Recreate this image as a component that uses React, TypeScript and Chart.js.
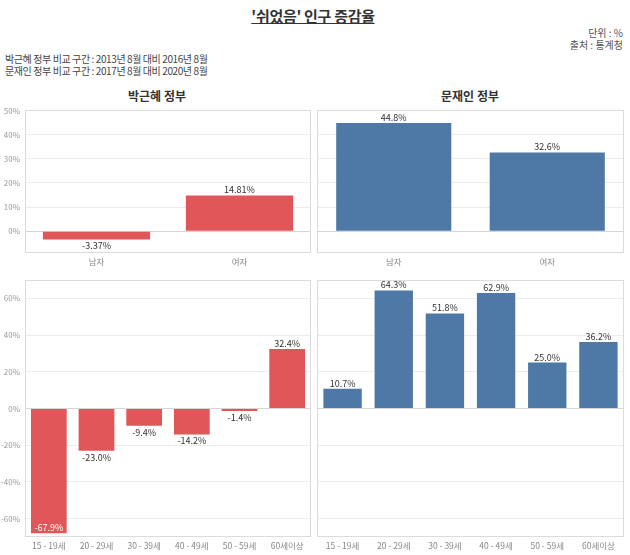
import React, { useEffect, useRef } from "react";
import { Chart, registerables } from "chart.js";

Chart.register(...registerables);

const genderCategories = ["남자", "여자"];
const ageCategories = ["15 - 19세", "20 - 29세", "30 - 39세", "40 - 49세", "50 - 59세", "60세이상"];
const parkGender = [-3.37, 14.81];
const moonGender = [44.8, 32.6];
const parkAge = [-67.9, -23.0, -9.4, -14.2, -1.4, 32.4];
const moonAge = [10.7, 64.3, 51.8, 62.9, 25.0, 36.2];
const genderTicks = [0, 10, 20, 30, 40, 50];
const ageTicks = [-60, -40, -20, 0, 20, 40, 60];

const RED = "#E15759";
const BLUE = "#4E79A7";
const FONT = "'Noto Sans CJK KR', 'Noto Sans', sans-serif";

type PanelProps = {
  left: number;
  top: number;
  width: number;
  height: number;
  labels: string[];
  values: number[];
  color: string;
  yMin: number;
  yMax: number;
  yTicks: number[];
  showY: boolean;
  decimals: number;
  pad: { left: number; right: number; top: number; bottom: number };
  yWidth: number;
  xHeight: number;
};

function Panel(p: PanelProps) {
  const ref = useRef<HTMLCanvasElement>(null);
  useEffect(() => {
    const framePlugin = {
      id: "frame",
      beforeDatasetsDraw(chart: any) {
        const { ctx, chartArea } = chart;
        ctx.save();
        ctx.strokeStyle = "#dcdcdc";
        ctx.lineWidth = 1;
        const l = Math.round(chartArea.left) + 0.5;
        const t = Math.round(chartArea.top) + 0.5;
        const r = Math.round(chartArea.right) - 0.5;
        const b = Math.round(chartArea.bottom) - 0.5;
        ctx.strokeRect(l, t, r - l, b - t);
        ctx.restore();
      },
    };
    const labelPlugin = {
      id: "valueLabels",
      afterDatasetsDraw(chart: any) {
        const { ctx, chartArea } = chart;
        const meta = chart.getDatasetMeta(0);
        ctx.save();
        ctx.font = `9px ${FONT}`;
        ctx.textAlign = "center";
        meta.data.forEach((el: any, i: number) => {
          const v = p.values[i];
          const txt = v.toFixed(p.decimals) + "%";
          const { x, y } = el.getProps(["x", "y"], true);
          if (v >= 0) {
            ctx.fillStyle = "#333";
            ctx.textBaseline = "bottom";
            ctx.fillText(txt, x, y - 1);
          } else if (y + 12 > chartArea.bottom) {
            ctx.fillStyle = "#ffffff";
            ctx.textBaseline = "bottom";
            ctx.fillText(txt, x, y - 1);
          } else {
            ctx.fillStyle = "#333";
            ctx.textBaseline = "top";
            ctx.fillText(txt, x, y + 2);
          }
        });
        ctx.restore();
      },
    };
    const chart = new Chart(ref.current as HTMLCanvasElement, {
      type: "bar",
      data: {
        labels: p.labels,
        datasets: [
          {
            data: p.values,
            backgroundColor: p.color,
            barPercentage: 0.75,
            categoryPercentage: 1,
          },
        ],
      },
      options: {
        animation: false,
        responsive: false,
        maintainAspectRatio: false,
        devicePixelRatio: 1,
        layout: { padding: p.pad },
        plugins: { legend: { display: false }, tooltip: { enabled: false } },
        scales: {
          x: {
            grid: { display: false, drawTicks: false },
            border: { display: false },
            ticks: {
              padding: 4,
              color: "#888",
              font: { size: 8.5, family: FONT },
              maxRotation: 0,
              autoSkip: false,
            },
            afterFit: (s: any) => {
              s.height = p.xHeight;
            },
          },
          y: {
            min: p.yMin,
            max: p.yMax,
            grid: {
              color: (c: any) => (c.tick && c.tick.value === 0 ? "#d6d6d6" : "#ededed"),
              drawTicks: false,
            },
            border: { display: false },
            ticks: {
              display: p.showY,
              padding: 5,
              color: "#999",
              font: { size: 8, family: FONT },
              callback: (v: any) => v + "%",
            },
            afterBuildTicks: (s: any) => {
              s.ticks = p.yTicks.map((v) => ({ value: v }));
            },
            afterFit: (s: any) => {
              s.width = p.yWidth;
            },
          },
        },
      } as any,
      plugins: [framePlugin, labelPlugin],
    });
    return () => chart.destroy();
  }, []);
  return (
    <canvas
      ref={ref}
      width={p.width}
      height={p.height}
      style={{ position: "absolute", left: p.left, top: p.top, width: p.width, height: p.height }}
    />
  );
}

export default function App() {
  const textBase: React.CSSProperties = { position: "absolute", whiteSpace: "nowrap", fontFamily: FONT };
  return (
    <div
      style={{
        position: "absolute",
        left: 0,
        top: 0,
        width: 630,
        height: 555,
        background: "#fff",
        overflow: "hidden",
        fontFamily: FONT,
      }}
    >
      <div
        style={{
          ...textBase,
          left: 0,
          width: 626,
          top: 6,
          lineHeight: "20px",
          fontSize: 15,
          fontWeight: 700,
          textAlign: "center",
          textDecoration: "underline",
          color: "#333",
          letterSpacing: "-0.3px",
        }}
      >
        '쉬었음' 인구 증감율
      </div>
      <div style={{ ...textBase, left: 0, width: 623, top: 26, lineHeight: "14px", fontSize: 10, textAlign: "right", color: "#555" }}>
        단위 : %
      </div>
      <div style={{ ...textBase, left: 0, width: 623, top: 38, lineHeight: "14px", fontSize: 10, textAlign: "right", color: "#555" }}>
        출처 : 통계청
      </div>
      <div style={{ ...textBase, left: 5, top: 52, lineHeight: "14px", fontSize: 10, color: "#444", letterSpacing: "-0.4px" }}>
        박근혜 정부 비교 구간 : 2013년 8월 대비 2016년 8월
      </div>
      <div style={{ ...textBase, left: 5, top: 64, lineHeight: "14px", fontSize: 10, color: "#444", letterSpacing: "-0.4px" }}>
        문재인 정부 비교 구간 : 2017년 8월 대비 2020년 8월
      </div>
      <div style={{ ...textBase, left: 0, width: 314, top: 88, lineHeight: "16px", fontSize: 12, fontWeight: 700, textAlign: "center", color: "#333" }}>
        박근혜 정부
      </div>
      <div style={{ ...textBase, left: 314, width: 312, top: 88, lineHeight: "16px", fontSize: 12, fontWeight: 700, textAlign: "center", color: "#333" }}>
        문재인 정부
      </div>

      <Panel
        left={0}
        top={100}
        width={314}
        height={172}
        labels={genderCategories}
        values={parkGender}
        color={RED}
        yMin={-9}
        yMax={50.2}
        yTicks={genderTicks}
        showY={true}
        decimals={2}
        pad={{ left: 0, right: 3, top: 10, bottom: 0 }}
        yWidth={25}
        xHeight={19}
      />
      <Panel
        left={314}
        top={100}
        width={316}
        height={172}
        labels={genderCategories}
        values={moonGender}
        color={BLUE}
        yMin={-9}
        yMax={50.2}
        yTicks={genderTicks}
        showY={false}
        decimals={1}
        pad={{ left: 3, right: 6, top: 10, bottom: 0 }}
        yWidth={0}
        xHeight={19}
      />
      <Panel
        left={0}
        top={270}
        width={314}
        height={285}
        labels={ageCategories}
        values={parkAge}
        color={RED}
        yMin={-70}
        yMax={70}
        yTicks={ageTicks}
        showY={true}
        decimals={1}
        pad={{ left: 0, right: 3, top: 10, bottom: 0 }}
        yWidth={25}
        xHeight={18}
      />
      <Panel
        left={314}
        top={270}
        width={316}
        height={285}
        labels={ageCategories}
        values={moonAge}
        color={BLUE}
        yMin={-70}
        yMax={70}
        yTicks={ageTicks}
        showY={false}
        decimals={1}
        pad={{ left: 3, right: 6, top: 10, bottom: 0 }}
        yWidth={0}
        xHeight={18}
      />
    </div>
  );
}
